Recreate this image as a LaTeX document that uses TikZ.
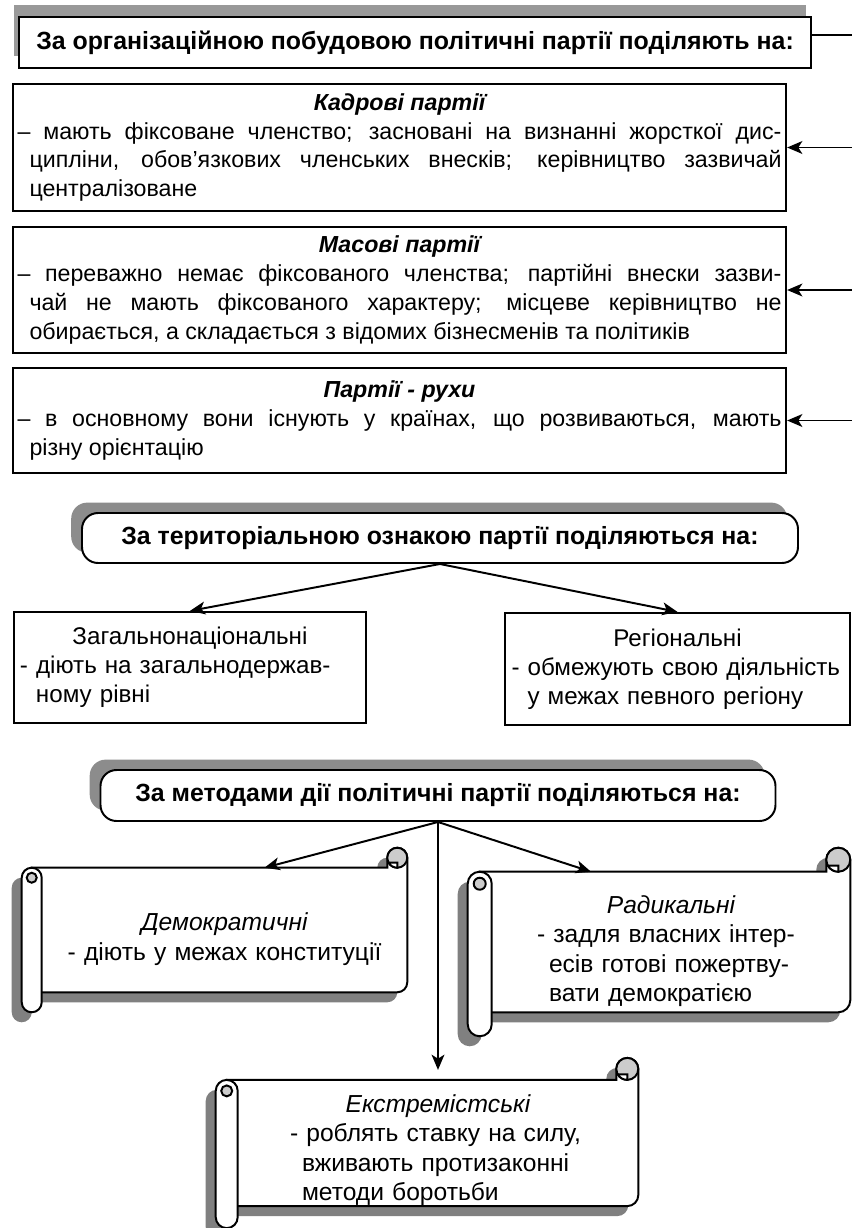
\documentclass[tikz,border=0pt]{standalone}
\usepackage{fontspec}
\setmainfont{Liberation Sans}
\usetikzlibrary{
  arrows.meta,
  positioning,
  calc,
  backgrounds,
  shadows
}

% centred italic head line of a box
\newcommand{\boxtitle}[1]{{\centering\bfseries\itshape #1\par}}

% rolled paper round a scroll body node: #1 node, #2 roll size
\newdimen\scrW
\newdimen\scrE
\newdimen\scrN
\newdimen\scrS
\newcommand{\scrollshape}[2]{%
  \pgfextractx{\scrW}{\pgfpointanchor{#1}{west}}%
  \pgfextractx{\scrE}{\pgfpointanchor{#1}{east}}%
  \pgfextracty{\scrN}{\pgfpointanchor{#1}{north}}%
  \pgfextracty{\scrS}{\pgfpointanchor{#1}{south}}%
  \def\scrC{#2}%
  \begin{scope}[on background layer]
    % shadow
    \begin{scope}[shift={(-0.25cm,-0.25cm)}, fill=black!50]
      \fill ({\scrW-\scrC/2},\scrS) -- ({\scrE-\scrC/2},\scrS)
        arc[start angle=-90, end angle=0, radius=\scrC/2]
        -- (\scrE,{\scrN+\scrC/2})
        arc[start angle=0, end angle=180, radius=\scrC/2]
        -- ({\scrE-\scrC},\scrN) -- ({\scrW-\scrC/2},\scrN) -- cycle;
      \fill ({\scrW-\scrC},{\scrN-\scrC/2})
        arc[start angle=180, end angle=0, radius=\scrC/2]
        -- (\scrW,{\scrS-\scrC/2})
        arc[start angle=0, end angle=-180, radius=\scrC/2] -- cycle;
    \end{scope}
    % paper
    \filldraw[scrollline, fill=white] ({\scrW-\scrC/2},\scrS) -- ({\scrE-\scrC/2},\scrS)
      arc[start angle=-90, end angle=0, radius=\scrC/2]
      -- (\scrE,{\scrN+\scrC/2})
      arc[start angle=0, end angle=180, radius=\scrC/2]
      -- ({\scrE-\scrC},\scrN) -- ({\scrW-\scrC/2},\scrN) -- cycle;
    \filldraw[scrollline, fill=black!20] ({\scrE-\scrC/2},{\scrN+\scrC/2}) circle[radius=\scrC/2];
    \filldraw[scrollline, fill=white] ({\scrE-\scrC/2},\scrN)
      arc[start angle=-90, end angle=-150, radius=\scrC/2]
      -- ({\scrE-\scrC/2},{\scrN+\scrC/4}) -- cycle;
    % roll
    \filldraw[scrollline, fill=white] ({\scrW-\scrC},{\scrN-\scrC/2})
      arc[start angle=180, end angle=0, radius=\scrC/2]
      -- (\scrW,{\scrS-\scrC/2})
      arc[start angle=0, end angle=-180, radius=\scrC/2] -- cycle;
    \filldraw[scrollline, fill=black!20] ({\scrW-\scrC/2},{\scrN-\scrC/2}) circle[radius=\scrC/4];
  \end{scope}
}

\begin{document}
\begin{tikzpicture}[
  font=\fontsize{16.5}{20.5}\selectfont,
  headbox/.style={
    rectangle,
    draw=black,
    fill=white,
    line width=1.6pt,
    minimum height=1.275cm,
    font=\fontsize{17.7}{20}\selectfont\bfseries,
    inner sep=0pt,
  },
  roundhead/.style={
    headbox,
    rounded corners=0.4cm,
    line width=1.4pt,
    drop shadow={shadow xshift=-0.27cm, shadow yshift=0.26cm, fill=black!45, opacity=1},
  },
  infobox/.style={
    rectangle,
    draw=black,
    fill=white,
    line width=1.6pt,
    text width=#1,
    align=justify,
    inner xsep=0pt,
    inner ysep=2pt,
  },
  typebox/.style={
    rectangle,
    draw=black,
    fill=white,
    line width=1.6pt,
    text width=#1,
    align=left,
    inner xsep=0pt,
    inner ysep=2pt,
    font=\fontsize{17.2}{20.5}\selectfont,
  },
  scrollbody/.style={
    rectangle,
    inner sep=0pt,
    text width=#1,
    align=left,
    font=\fontsize{17.5}{21}\selectfont,
  },
  scrollline/.style={draw=black, line width=1.4pt},
  arrow/.style={-{Stealth[length=3.8mm, width=3.2mm, inset=1mm]}, line width=1.4pt},
  busline/.style={line width=1.4pt},
]

\useasboundingbox (0, 0) rectangle (21.3, -30.7);

% ── Organisation: head ──
\node[headbox, minimum width=19.8cm,
  drop shadow={shadow xshift=-0.125cm, shadow yshift=0.31cm, fill=black!40, opacity=1}]
  (orgtitle) at (10.375, -1.0625) {За організаційною побудовою політичні партії поділяють на:};

% ── Organisation: three kinds ──
\node[infobox=19.1cm, minimum width=19.325cm, minimum height=3.175cm] (kadrovi) at (9.9875, -3.6875) {
  \boxtitle{Кадрові партії}
  – мають фіксоване членство; засновані на визнанні жорсткої дис-\linebreak
  \hspace*{0.3cm}ципліни, обов’язкових членських внесків; керівництво зазвичай\linebreak
  \hspace*{0.3cm}централізоване
};

\node[infobox=19.1cm, minimum width=19.325cm, minimum height=3.15cm] (masovi) at (9.9875, -7.25) {
  \boxtitle{Масові партії}
  – переважно немає фіксованого членства; партійні внески зазви-\linebreak
  \hspace*{0.3cm}чай не мають фіксованого характеру; місцеве керівництво не\linebreak
  \hspace*{0.3cm}обирається, а складається з відомих бізнесменів та політиків
};

\node[infobox=19.1cm, minimum width=19.325cm, minimum height=2.625cm] (rukhy) at (9.9875, -10.5125) {
  \boxtitle{Партії - рухи}
  – в основному вони існують у країнах, що розвиваються, мають\linebreak
  \hspace*{0.3cm}різну орієнтацію
};

% ── Organisation: bus on the right ──
\coordinate (bus) at (21.3, 0);
\draw[busline] ([yshift=0.19cm]orgtitle.east) -- ([yshift=0.19cm]orgtitle.east -| bus);
\draw[arrow] (bus |- kadrovi.east) -- (kadrovi.east);
\draw[arrow] (bus |- masovi.east) -- (masovi.east);
\draw[arrow] (bus |- rukhy.east) -- (rukhy.east);

% ── Territory ──
\node[roundhead, minimum width=17.9cm, minimum height=1.25cm] (terr) at (11.0, -13.45)
  {За територіальною ознакою партії поділяються на:};

\node[typebox=8.5cm, minimum width=8.8cm, minimum height=2.775cm] (zahal) at (4.75, -16.6875) {
  {\centering Загальнонаціональні\par}
  - діють на загальнодержав-\\
  \hspace*{0.4cm}ному рівні
};

\node[typebox=8.3cm, minimum width=8.625cm, minimum height=2.8cm] (rehion) at (16.9375, -16.725) {
  {\centering Регіональні\par}
  - обмежують свою діяльність\\
  \hspace*{0.4cm}у межах певного регіону
};

\draw[arrow] (terr.south) -- (zahal.north);
\draw[arrow] (terr.south) -- (rehion.north);

% ── Methods ──
\node[roundhead, minimum width=16.875cm] (method) at (10.95, -19.8875)
  {За методами дії політичні партії поділяються на:};

\node[scrollbody=8.4cm, align=center, minimum width=9.125cm, minimum height=3.1cm]
  (demo) at (5.6125, -23.25) {
  \rule{0pt}{0.9cm}{\itshape Демократичні}\\
  - діють у межах конституції
};

\node[scrollbody=6.7cm, minimum width=8.95cm, minimum height=3.5cm]
  (radical) at (16.775, -23.55) {
  {\centering\itshape\rule{0pt}{0.9cm}Радикальні\par}
  - задля власних інтер-\\
  \hspace*{0.3cm}есів готові пожертву-\\
  \hspace*{0.3cm}вати демократією
};

\node[scrollbody=7.4cm, minimum width=10.0cm, minimum height=3.0cm]
  (extreme) at (10.95, -28.575) {
  {\centering\itshape\rule{0pt}{0.8cm}Екстремістські\par}
  - роблять ставку на силу,\\
  \hspace*{0.3cm}вживають протизаконні\\
  \hspace*{0.3cm}методи боротьби
};

\scrollshape{demo}{0.5cm}
\scrollshape{radical}{0.6cm}
\scrollshape{extreme}{0.55cm}

\draw[arrow] (method.south) -- ([xshift=1cm]demo.north);
\draw[arrow] (method.south) -- ([xshift=-2cm]radical.north);
\draw[arrow] (method.south) -- ([yshift=0.25cm]extreme.north);

\end{tikzpicture}
\end{document}
